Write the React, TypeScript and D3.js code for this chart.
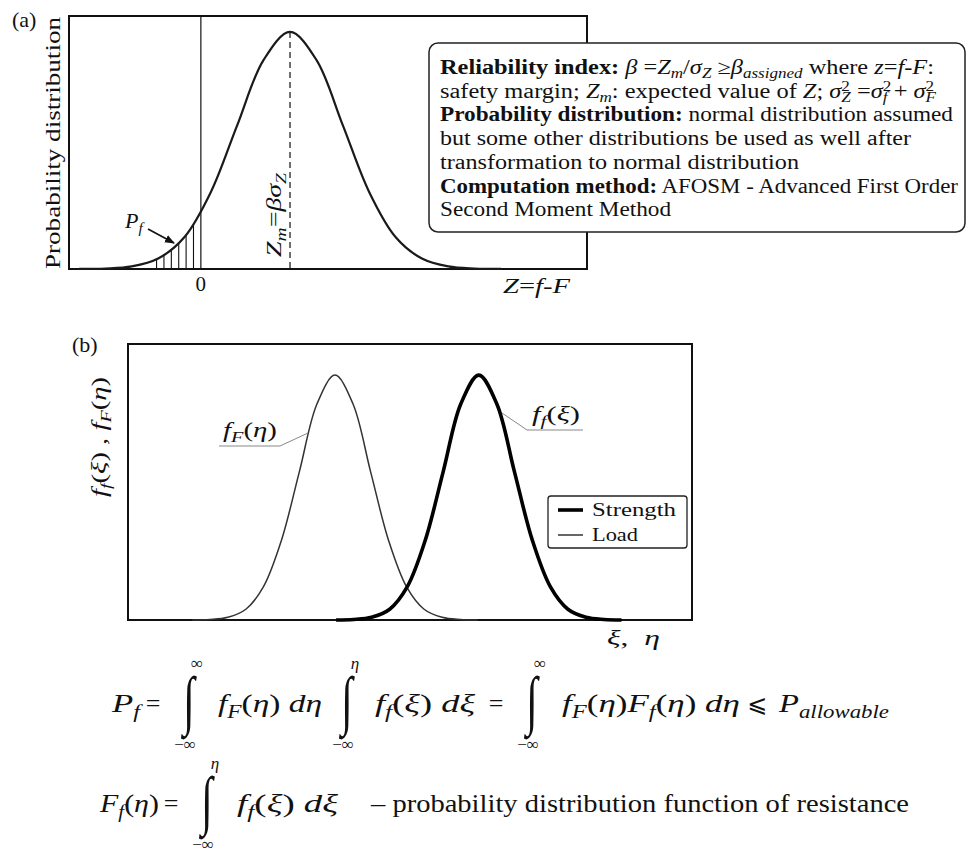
import React from 'react';
import * as d3 from 'd3';

const SERIF = "'Liberation Serif', 'DejaVu Serif', 'DejaVu Sans', serif";

// (a) Safety margin Z = f − F in units of σ_Z, normalised density
const marginZ = [-2.31, -1.81, -1.31, -0.81, -0.31, 0.19, 0.69, 1.19, 1.69, 2.19, 2.69, 3.19, 3.69, 4.19, 4.69, 5.19, 5.69];
const marginDensity = [0.0003, 0.002, 0.011, 0.044, 0.135, 0.325, 0.607, 0.882, 1.0, 0.882, 0.607, 0.325, 0.135, 0.044, 0.011, 0.002, 0.0003];
const marginMean = 1.69; // Z_m = β σ_Z
const failureBoundary = 0;

// (b) Load and strength densities on the common axis ξ, η
const loadEta = [1.14, 1.45, 1.77, 2.09, 2.4, 2.72, 3.04, 3.35, 3.67, 3.99, 4.3, 4.62, 4.94, 5.25, 5.57, 5.89, 6.2];
const loadDensity = [0.0003, 0.002, 0.011, 0.044, 0.135, 0.325, 0.607, 0.882, 1.0, 0.882, 0.607, 0.325, 0.135, 0.044, 0.011, 0.002, 0.0003];
const strengthXi = [3.69, 4.0, 4.32, 4.64, 4.95, 5.27, 5.59, 5.9, 6.22, 6.54, 6.85, 7.17, 7.49, 7.8, 8.12, 8.44, 8.75];
const strengthDensity = [0.0003, 0.002, 0.011, 0.044, 0.135, 0.325, 0.607, 0.882, 1.0, 0.882, 0.607, 0.325, 0.135, 0.044, 0.011, 0.002, 0.0003];
const seriesNames = ['Strength', 'Load'];

type Seg = { t: string; f?: 'i' | 'b'; s?: number; o?: number; dx?: number };
const r = (t: string): Seg => ({ t });
const it = (t: string): Seg => ({ t, f: 'i' });
const bd = (t: string): Seg => ({ t, f: 'b' });
const sb = (t: string, dx?: number): Seg => ({ t, f: 'i', s: 0.7, o: 0.22, dx });
const sp = (t: string): Seg => ({ t, s: 0.7, o: -0.36 });

function Tspans({ segs, size }: { segs: Seg[]; size: number }) {
  let cur = 0;
  return (
    <>
      {segs.map((sg, i) => {
        const off = sg.o ?? 0;
        const dy = (off - cur) * size;
        cur = off;
        return (
          <tspan
            key={i}
            dy={dy !== 0 ? dy : undefined}
            dx={sg.dx !== undefined ? sg.dx * size : undefined}
            fontSize={size * (sg.s ?? 1)}
            fontStyle={sg.f === 'i' ? 'italic' : undefined}
            fontWeight={sg.f === 'b' ? 'bold' : undefined}
          >
            {sg.t}
          </tspan>
        );
      })}
    </>
  );
}

function MText(props: {
  x?: number; y?: number; size: number; segs: Seg[]; len?: number;
  anchor?: 'start' | 'middle' | 'end'; transform?: string;
}) {
  const { x = 0, y = 0, size, segs, len, anchor = 'start', transform } = props;
  return (
    <text
      x={x}
      y={y}
      transform={transform}
      fontSize={size}
      fontFamily={SERIF}
      textAnchor={anchor}
      fill="#111"
      textLength={len}
      lengthAdjust={len ? 'spacingAndGlyphs' : undefined}
      style={{ whiteSpace: 'pre' }}
    >
      <Tspans segs={segs} size={size} />
    </text>
  );
}

function Integral({ cx, by, upper, lower }: { cx: number; by: number; upper: string; lower: string }) {
  return (
    <g fontFamily={SERIF} fill="#111">
      <text transform={`translate(${cx},${by + 10}) scale(1,1.55)`} textAnchor="middle" fontSize={42}>∫</text>
      <text x={cx + 8} y={by - 43} textAnchor="middle" fontSize={17} fontStyle={upper === 'η' ? 'italic' : undefined}>{upper}</text>
      <text x={cx - 4} y={by + 38} textAnchor="middle" fontSize={17}>{lower}</text>
    </g>
  );
}

const boxLines: Seg[][] = [
  [bd('Reliability index:'), r(' '), it('β'), r(' ='), it('Z'), sb('m'), r('/'), it('σ'), sb('Z'), r(' ≥'), it('β'), sb('assigned'), r(' where '), it('z'), r('='), it('f'), r('-'), it('F'), r(':')],
  [r('safety margin; '), it('Z'), sb('m'), r(': expected value of '), it('Z'), r('; '), it('σ'), sp('2'), sb('Z', -0.35), r(' ='), it('σ'), sp('2'), sb('f', -0.35), r(' + '), it('σ'), sp('2'), sb('F', -0.35)],
  [bd('Probability distribution:'), r(' normal distribution assumed')],
  [r('but some other distributions be used as well after')],
  [r('transformation to normal distribution')],
  [bd('Computation method:'), r(' AFOSM - Advanced First Order')],
  [r('Second Moment Method')],
];
const boxLineWidths = [494, 496, 513, 471, 359, 518, 231];

export default function App() {
  // ---- panel (a) scales
  const xA = d3.scaleLinear().domain([-2.5, 7.32]).range([69, 587]);
  const yA = d3.scaleLinear().domain([0, 1.067]).range([269, 16]);
  const ptsA: [number, number][] = marginZ.map((z, i) => [z, marginDensity[i]]);
  const lineA = d3.line<[number, number]>().x(d => xA(d[0])).y(d => yA(d[1])).curve(d3.curveCatmullRom.alpha(0.5));
  const areaA = d3.area<[number, number]>().x(d => xA(d[0])).y0(yA(0)).y1(d => yA(d[1])).curve(d3.curveCatmullRom.alpha(0.5));
  const hatchZ = d3.range(-0.84, -0.05, 0.14);
  const peakA = d3.max(marginDensity) as number;

  // ---- panel (b) scales
  const xB = d3.scaleLinear().domain([0, 10]).range([128, 692]);
  const yB = d3.scaleLinear().domain([0, 1.127]).range([620, 344]);
  const lineB = d3.line<[number, number]>().x(d => xB(d[0])).y(d => yB(d[1])).curve(d3.curveCatmullRom.alpha(0.5));
  const loadPts: [number, number][] = loadEta.map((v, i) => [v, loadDensity[i]]);
  const strengthPts: [number, number][] = strengthXi.map((v, i) => [v, strengthDensity[i]]);

  const y1 = 712;
  const y2 = 812;

  return (
    <svg width={967} height={856} style={{ position: 'absolute', left: 0, top: 0, background: '#fff' }} fontFamily={SERIF}>
      <defs>
        <clipPath id="pfArea">
          <path d={areaA(ptsA) as string} />
        </clipPath>
        <marker id="arrowHead" viewBox="0 0 10 10" refX={9} refY={5} markerWidth={10} markerHeight={10} markerUnits="userSpaceOnUse" orient="auto">
          <path d="M0,1 L10,5 L0,9 Z" fill="#111" />
        </marker>
      </defs>

      {/* ---------------- panel (a) ---------------- */}
      <text x={12} y={27} fontSize={22} fill="#111">(a)</text>
      <rect x={xA(-2.5)} y={yA(1.067)} width={xA(7.32) - xA(-2.5)} height={yA(0) - yA(1.067)} fill="none" stroke="#111" strokeWidth={2} />
      <line x1={xA(failureBoundary)} x2={xA(failureBoundary)} y1={yA(1.067)} y2={yA(0)} stroke="#111" strokeWidth={1.2} />
      {hatchZ.map((z, i) => (
        <line key={i} x1={xA(z)} x2={xA(z)} y1={yA(0)} y2={yA(1.067)} stroke="#111" strokeWidth={1.1} clipPath="url(#pfArea)" />
      ))}
      <line x1={xA(marginMean)} x2={xA(marginMean)} y1={yA(peakA)} y2={yA(0)} stroke="#111" strokeWidth={1.2} strokeDasharray="6 4" />
      <path d={lineA(ptsA) as string} fill="none" stroke="#1a1a1a" strokeWidth={2.2} />
      <MText transform="translate(60,143) rotate(-90)" anchor="middle" size={22} len={252} segs={[r('Probability distribution')]} />
      <MText transform="translate(281,215) rotate(-90)" anchor="middle" size={21} len={84} segs={[it('Z'), sb('m'), r('='), it('β'), it('σ'), sb('Z')]} />
      <MText x={125} y={228} size={22} segs={[it('P'), sb('f')]} />
      <line x1={148} y1={229} x2={174} y2={243} stroke="#111" strokeWidth={1.6} markerEnd="url(#arrowHead)" />
      <text x={xA(failureBoundary)} y={291} fontSize={21} textAnchor="middle" fill="#111">0</text>
      <MText x={503} y={293} size={21} len={67} segs={[it('Z'), r('='), it('f'), r('-'), it('F')]} />

      {/* annotation box */}
      <rect x={429} y={43} width={536} height={189} rx={9} ry={9} fill="#fff" stroke="#222" strokeWidth={1.5} />
      {boxLines.map((segs, i) => (
        <MText key={i} x={440} y={74 + i * 23.7} size={20} len={boxLineWidths[i]} segs={segs} />
      ))}

      {/* ---------------- panel (b) ---------------- */}
      <text x={72} y={352} fontSize={22} fill="#111">(b)</text>
      <rect x={xB(0)} y={yB(1.127)} width={xB(10) - xB(0)} height={yB(0) - yB(1.127)} fill="none" stroke="#111" strokeWidth={2} />
      <path d={lineB(loadPts) as string} fill="none" stroke="#333" strokeWidth={1.5} />
      <path d={lineB(strengthPts) as string} fill="none" stroke="#000" strokeWidth={3.6} />
      <MText transform="translate(106,437) rotate(-90)" anchor="middle" size={22} len={120} segs={[it('f'), sb('f'), r('('), it('ξ'), r(') , '), it('f'), sb('F'), r('('), it('η'), r(')')]} />

      <polyline points="219,446 280,446 308,433" fill="none" stroke="#888" strokeWidth={1} />
      <MText x={223} y={437} size={22} len={54} segs={[it('f'), sb('F'), r('('), it('η'), r(')')]} />
      <polyline points="583,430 527,430 502,413" fill="none" stroke="#888" strokeWidth={1} />
      <MText x={532} y={421} size={22} len={48} segs={[it('f'), sb('f'), r('('), it('ξ'), r(')')]} />
      <MText x={607} y={645} size={22} len={53} segs={[it('ξ'), r(',  '), it('η')]} />

      <rect x={548} y={496} width={139} height={52} rx={3} ry={3} fill="#fff" stroke="#222" strokeWidth={1.3} />
      <line x1={558} x2={583} y1={510} y2={510} stroke="#000" strokeWidth={3.6} />
      <line x1={558} x2={583} y1={535} y2={535} stroke="#555" strokeWidth={1.8} />
      <text x={592} y={516} fontSize={18} fill="#111" textLength={84} lengthAdjust="spacingAndGlyphs">{seriesNames[0]}</text>
      <text x={592} y={541} fontSize={18} fill="#111" textLength={46} lengthAdjust="spacingAndGlyphs">{seriesNames[1]}</text>

      {/* ---------------- formulas ---------------- */}
      <MText x={112} y={y1} size={26} len={28} segs={[it('P'), sb('f')]} />
      <text x={153} y={y1} fontSize={26} textAnchor="middle" fill="#111">=</text>
      <Integral cx={189} by={y1} upper="∞" lower="−∞" />
      <MText x={218} y={y1} size={26} len={104} segs={[it('f'), sb('F'), r('('), it('η'), r(') '), it('d'), it('η')]} />
      <Integral cx={347} by={y1} upper="η" lower="−∞" />
      <MText x={375} y={y1} size={26} len={100} segs={[it('f'), sb('f'), r('('), it('ξ'), r(') '), it('d'), it('ξ')]} />
      <text x={496} y={y1} fontSize={26} textAnchor="middle" fill="#111">=</text>
      <Integral cx={532} by={y1} upper="∞" lower="−∞" />
      <MText x={562} y={y1} size={26} len={178} segs={[it('f'), sb('F'), r('('), it('η'), r(')'), it('F'), sb('f'), r('('), it('η'), r(') '), it('d'), it('η')]} />
      <text x={757} y={y1} fontSize={24} textAnchor="middle" fill="#111">⩽</text>
      <MText x={779} y={y1} size={26} len={110} segs={[it('P'), sb('allowable')]} />

      <MText x={100} y={y2} size={26} len={59} segs={[it('F'), sb('f'), r('('), it('η'), r(')')]} />
      <text x={171} y={y2} fontSize={26} textAnchor="middle" fill="#111">=</text>
      <Integral cx={207} by={y2} upper="η" lower="−∞" />
      <MText x={237} y={y2} size={26} len={101} segs={[it('f'), sb('f'), r('('), it('ξ'), r(') '), it('d'), it('ξ')]} />
      <MText x={371} y={y2} size={26} len={538} segs={[r('– probability distribution function of resistance')]} />
    </svg>
  );
}
